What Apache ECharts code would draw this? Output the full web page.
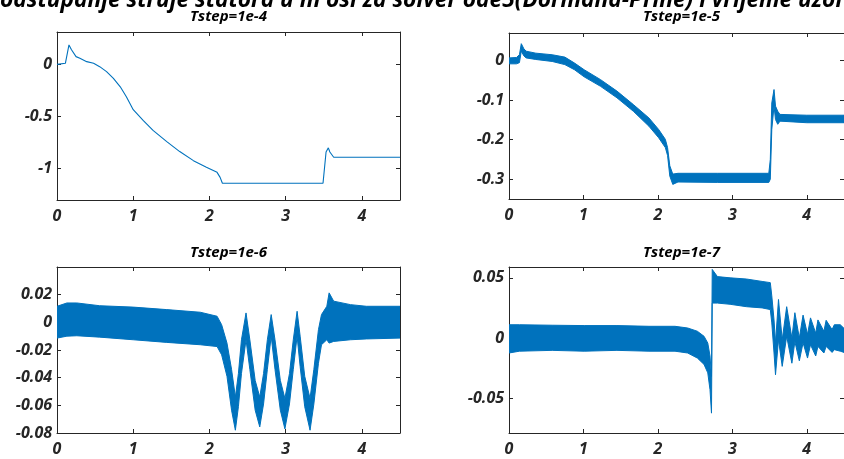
<!DOCTYPE html>
<html>
<head>
<meta charset="utf-8">
<script src="https://cdn.jsdelivr.net/npm/echarts@6/dist/echarts.min.js"></script>
<style>
  html, body { margin: 0; padding: 0; background: #fff; }
  #chart { width: 844px; height: 459px; }
</style>
</head>
<body>
<div id="chart"></div>
<script>
  const BLUE = '#0072BD'
  const INK = '#262626'
  const FONT = '"Open Sans", "DejaVu Sans", sans-serif'

  const mainTitle = 'odstupanje struje statora u m osi za solver ode5(Dormand-Prine) i vrijeme uzorkovanja'
  const panelTitles = ['Tstep=1e-4', 'Tstep=1e-5', 'Tstep=1e-6', 'Tstep=1e-7']
  const xTicks = [0, 1, 2, 3, 4]

  // Tstep=1e-4 : single trace
  const t1 = [0, 0.11, 0.157, 0.19, 0.25, 0.30, 0.39, 0.48, 0.56, 0.65, 0.74, 0.83, 0.91, 1.0, 1.13, 1.26, 1.44, 1.61, 1.79, 1.96, 2.10, 2.14, 2.17, 2.2, 2.8, 3.49, 3.50, 3.53, 3.56, 3.58, 3.63, 4.0, 4.5]
  const v1 = [0, 0.01, 0.186, 0.14, 0.074, 0.058, 0.026, 0.01, -0.022, -0.07, -0.135, -0.215, -0.31, -0.434, -0.537, -0.633, -0.74, -0.836, -0.923, -0.987, -1.035, -1.083, -1.14, -1.14, -1.14, -1.14, -1.13, -0.84, -0.80, -0.84, -0.89, -0.89, -0.89]
  const yTicks1 = [-1, -0.5, 0]

  // Tstep=1e-5 : noisy band (upper / lower edge)
  const t2 = [0, 0.10, 0.14, 0.165, 0.20, 0.23, 0.36, 0.58, 0.75, 0.88, 1.01, 1.23, 1.45, 1.67, 1.88, 2.01, 2.10, 2.13, 2.16, 2.20, 2.27, 2.8, 3.49, 3.51, 3.53, 3.56, 3.58, 3.61, 3.64, 4.0, 4.5]
  const hi2 = [0.007, 0.008, 0.015, 0.043, 0.03, 0.024, 0.019, 0.015, 0.009, -0.006, -0.023, -0.048, -0.077, -0.111, -0.145, -0.174, -0.199, -0.22, -0.266, -0.287, -0.285, -0.285, -0.285, -0.25, -0.107, -0.073, -0.115, -0.128, -0.136, -0.138, -0.138]
  const lo2 = [-0.008, -0.008, -0.005, 0.024, 0.012, 0.007, 0.003, -0.002, -0.01, -0.023, -0.041, -0.065, -0.094, -0.128, -0.166, -0.195, -0.22, -0.24, -0.292, -0.313, -0.307, -0.308, -0.308, -0.3, -0.174, -0.115, -0.149, -0.161, -0.153, -0.157, -0.157]
  const yTicks2 = [-0.3, -0.2, -0.1, 0]

  // Tstep=1e-6
  const t3 = [0, 0.13, 0.26, 0.56, 1.0, 1.44, 1.88, 2.1, 2.16, 2.23, 2.29, 2.34, 2.38, 2.42, 2.48, 2.53, 2.60, 2.66, 2.71, 2.76, 2.81, 2.86, 2.93, 2.99, 3.05, 3.10, 3.15, 3.19, 3.25, 3.32, 3.37, 3.43, 3.47, 3.54, 3.57, 3.63, 3.85, 4.06, 4.5]
  const hi3 = [0.0116, 0.014, 0.014, 0.012, 0.011, 0.0092, 0.0073, 0.0044, -0.0017, -0.015, -0.034, -0.054, -0.037, -0.0126, 0.0068, -0.0126, -0.042, -0.054, -0.037, -0.0126, 0.0056, -0.0126, -0.042, -0.055, -0.037, -0.0126, 0.008, -0.010, -0.039, -0.055, -0.034, -0.0053, 0.0056, 0.0116, 0.0213, 0.0153, 0.0128, 0.0116, 0.0116]
  const lo3 = [-0.0114, -0.010, -0.0097, -0.0107, -0.0126, -0.0145, -0.0162, -0.0175, -0.0235, -0.039, -0.0635, -0.078, -0.061, -0.037, -0.0126, -0.034, -0.0635, -0.0756, -0.059, -0.034, -0.010, -0.034, -0.0635, -0.077, -0.059, -0.034, -0.010, -0.032, -0.061, -0.078, -0.059, -0.0296, -0.0162, -0.0126, -0.015, -0.0138, -0.0126, -0.012, -0.0114]
  const yTicks3 = [-0.08, -0.06, -0.04, -0.02, 0, 0.02]

  // Tstep=1e-7
  const t4 = [0, 0.14, 0.58, 1.01, 1.45, 1.88, 2.23, 2.40, 2.53, 2.62, 2.67, 2.70, 2.72, 2.73, 2.80, 2.97, 3.19, 3.40, 3.51, 3.53, 3.56, 3.58, 3.62, 3.67, 3.73, 3.80, 3.84, 3.90, 3.95, 4.01, 4.05, 4.12, 4.15, 4.23, 4.26, 4.34, 4.37, 4.45, 4.5]
  const hi4 = [0.011, 0.011, 0.0106, 0.0103, 0.0103, 0.0097, 0.0097, 0.0083, 0.0056, 0.0014, -0.0042, -0.015, -0.032, 0.057, 0.051, 0.05, 0.049, 0.047, 0.046, 0.035, 0.015, -0.004, 0.032, -0.0014, 0.026, 0, 0.021, 0, 0.019, 0.003, 0.0167, 0.004, 0.015, 0.0056, 0.0147, 0.007, 0.011, 0.011, 0.008]
  const lo4 = [-0.0125, -0.011, -0.0103, -0.011, -0.0103, -0.011, -0.011, -0.0125, -0.0167, -0.022, -0.029, -0.043, -0.0625, 0.029, 0.029, 0.028, 0.026, 0.025, 0.0236, 0.0125, -0.0125, -0.0306, -0.0014, -0.0236, 0.0014, -0.021, -0.003, -0.019, -0.004, -0.0167, -0.0056, -0.015, -0.007, -0.0125, -0.007, -0.012, -0.0097, -0.011, -0.012]
  const yTicks4 = [-0.05, 0, 0.05]

  const chart = echarts.init(document.getElementById('chart'))

  const grids = [
    { left: 57, top: 32, width: 343, height: 168 },
    { left: 509, top: 33, width: 345, height: 166 },
    { left: 57, top: 267, width: 343, height: 166 },
    { left: 509, top: 267, width: 345, height: 166 }
  ]
  const yRanges = [[-1.3, 0.31], [-0.35, 0.07], [-0.08, 0.04], [-0.079, 0.059]]
  const yTickSets = [yTicks1, yTicks2, yTicks3, yTicks4]

  const labelStyle = { color: INK, fontFamily: FONT, fontSize: 16, fontWeight: 'bold', fontStyle: 'italic' }
  const line = { show: true, onZero: false, lineStyle: { color: INK, width: 1 } }

  const xAxis = []
  const yAxis = []
  grids.forEach((g, i) => {
    const tick = { show: true, inside: true, length: 4, lineStyle: { color: INK } }
    xAxis.push({
      type: 'value', gridIndex: i, min: 0, max: 4.5, position: 'bottom',
      axisLine: line, splitLine: { show: false },
      axisTick: Object.assign({ customValues: xTicks }, tick),
      axisLabel: Object.assign({ customValues: xTicks, margin: 8 }, labelStyle)
    })
    xAxis.push({
      type: 'value', gridIndex: i, min: 0, max: 4.5, position: 'top',
      axisLine: line, splitLine: { show: false },
      axisTick: Object.assign({ customValues: xTicks }, tick),
      axisLabel: { show: false }
    })
    yAxis.push({
      type: 'value', gridIndex: i, min: yRanges[i][0], max: yRanges[i][1], position: 'left',
      axisLine: line, splitLine: { show: false },
      axisTick: Object.assign({ customValues: yTickSets[i] }, tick),
      axisLabel: Object.assign({ customValues: yTickSets[i], margin: 5 }, labelStyle)
    })
    yAxis.push({
      type: 'value', gridIndex: i, min: yRanges[i][0], max: yRanges[i][1], position: 'right',
      axisLine: line, splitLine: { show: false },
      axisTick: Object.assign({ customValues: yTickSets[i] }, tick),
      axisLabel: { show: false }
    })
  })

  // noisy traces are drawn as the band between their upper and lower edges
  function band (gi, tArr, hiArr, loArr) {
    return {
      type: 'custom',
      xAxisIndex: gi * 2,
      yAxisIndex: gi * 2,
      clip: true,
      data: tArr.map((t, i) => [t, hiArr[i], loArr[i]]),
      encode: { x: 0, y: [1, 2] },
      renderItem: function (params, api) {
        if (params.dataIndex !== 0) return null
        const pts = []
        for (let i = 0; i < tArr.length; i++) pts.push(api.coord([tArr[i], hiArr[i]]))
        for (let i = tArr.length - 1; i >= 0; i--) pts.push(api.coord([tArr[i], loArr[i]]))
        return {
          type: 'polygon',
          shape: { points: pts },
          style: { fill: BLUE, stroke: BLUE, lineWidth: 1 }
        }
      }
    }
  }

  const titleText = (text, x, y, size) => ({
    type: 'text', x: x, y: y,
    style: {
      text: text, fill: '#000', textAlign: 'center', textVerticalAlign: 'middle',
      font: 'italic bold ' + size + 'px ' + FONT
    }
  })

  chart.setOption({
    animation: false,
    backgroundColor: '#fff',
    grid: grids,
    xAxis: xAxis,
    yAxis: yAxis,
    graphic: [
      {
        type: 'text', x: 0, y: 1,
        style: {
          text: mainTitle, fill: '#000', textAlign: 'left', textVerticalAlign: 'middle',
          font: 'italic bold 22.7px ' + FONT
        }
      },
      titleText(panelTitles[0], 228.5, 17, 15),
      titleText(panelTitles[1], 681.5, 17, 15),
      titleText(panelTitles[2], 228.5, 253, 15),
      titleText(panelTitles[3], 681.5, 253, 15)
    ],
    series: [
      {
        type: 'line', xAxisIndex: 0, yAxisIndex: 0, showSymbol: false,
        lineStyle: { color: BLUE, width: 1.1 },
        data: t1.map((t, i) => [t, v1[i]])
      },
      band(1, t2, hi2, lo2),
      band(2, t3, hi3, lo3),
      band(3, t4, hi4, lo4)
    ]
  })
</script>
</body>
</html>
